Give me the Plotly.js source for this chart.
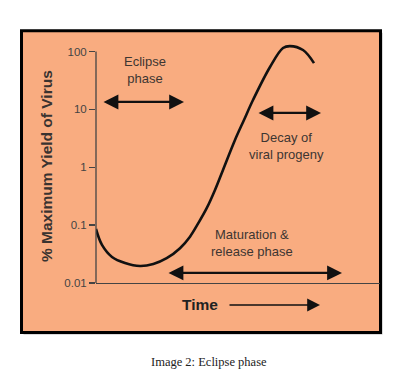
<!DOCTYPE html>
<html>
<head>
<meta charset="utf-8">
<script src="https://cdn.plot.ly/plotly-3.0.1.min.js"></script>
<style>
html,body{margin:0;padding:0;background:#fff;}
#chart{width:418px;height:370px;}
</style>
</head>
<body>
<div id="chart"></div>
<script>
// Time (arbitrary units) and % maximum yield of virus
const time = [0, 0.211, 0.563, 1.021, 1.549, 2.018, 2.489, 2.958, 3.31, 3.602, 3.898, 4.19, 4.472, 4.894, 5.211, 5.528, 6.127, 6.585, 6.831, 7.289, 7.676];
const yieldPct = [0.086, 0.0455, 0.0282, 0.0222, 0.0197, 0.0213, 0.0268, 0.0399, 0.0632, 0.108, 0.196, 0.405, 0.90, 2.96, 6.56, 14.5, 54, 115, 124, 106, 63];
const tickVals = [0.01, 0.1, 1, 10, 100];
const tickText = ['0.01', '0.1', '1', '10', '100'];
const yTitle = '% Maximum Yield of Virus';
const xTitle = 'Time';
const caption = 'Image 2: Eclipse phase';
const phaseLabels = ['Eclipse<br>phase', 'Decay of<br>viral progeny', 'Maturation &amp;<br>release phase'];

const FONT = 'Liberation Sans, Arial, sans-serif';
const TXT = '#3d3632';
const yMin = -2, yMax = 2.337;
const fracTop = (2 - yMin) / (yMax - yMin);

const trace = {
  x: time, y: yieldPct, type: 'scatter', mode: 'lines',
  line: {color: '#111', width: 2.6, shape: 'spline', smoothing: 1},
  hoverinfo: 'skip'
};

function arrow(xTip, yLog, axPx, both) {
  return {
    x: xTip, y: yLog, xref: 'x', yref: 'y', ax: axPx, ay: 0,
    axref: 'pixel', ayref: 'pixel', text: '', showarrow: true,
    arrowhead: 2, startarrowhead: 2, arrowside: both ? 'end+start' : 'end',
    arrowwidth: 2.2, arrowsize: 1.35, startarrowsize: 1.35, arrowcolor: '#111'
  };
}
function label(x, yLog, txt) {
  return {x: x, y: yLog, xref: 'x', yref: 'y', text: txt, showarrow: false,
    xanchor: 'center', yanchor: 'middle', font: {family: FONT, size: 13, color: TXT}};
}

const layout = {
  width: 418, height: 370,
  margin: {l: 96, r: 38, t: 32, b: 87},
  paper_bgcolor: '#ffffff', plot_bgcolor: 'rgba(0,0,0,0)',
  showlegend: false,
  xaxis: {range: [0, 10], showgrid: false, zeroline: false, showticklabels: false,
    ticks: '', showline: true, linecolor: '#444', linewidth: 1.3, fixedrange: true},
  yaxis: {type: 'log', range: [yMin, yMax], showgrid: false, zeroline: false,
    tickvals: tickVals, ticktext: tickText, ticks: 'outside', ticklen: 6,
    tickcolor: '#444', tickwidth: 1.3, showline: false,
    tickfont: {family: FONT, size: 11.5, color: '#444'}, fixedrange: true},
  shapes: [
    {type: 'rect', xref: 'paper', yref: 'paper', x0: -0.2553, x1: 1.0088, y0: -0.2052, y1: 0.9968,
      fillcolor: 'rgba(0,0,0,0.28)', line: {width: 0}, layer: 'below'},
    {type: 'rect', xref: 'paper', yref: 'paper', x0: -0.2623, x1: 1.0018, y0: -0.1972, y1: 1.0048,
      fillcolor: '#F9AC80', line: {color: '#000', width: 3}, layer: 'below'},
    {type: 'line', xref: 'paper', yref: 'paper', x0: 0, x1: 0, y0: 0, y1: fracTop,
      line: {color: '#444', width: 1.3}}
  ],
  annotations: [
    label(1.708, 1.680, phaseLabels[0]),
    arrow(3.099, 1.128, -82, true),
    label(6.69, 0.368, phaseLabels[1]),
    arrow(7.923, 0.938, -64, true),
    label(5.493, -1.316, phaseLabels[2]),
    arrow(8.662, -1.826, -175, true),
    {x: 3.662, y: -0.0876, xref: 'x', yref: 'paper', text: '<b>' + xTitle + '</b>', showarrow: false,
      xanchor: 'center', yanchor: 'middle', font: {family: FONT, size: 15.5, color: '#222'}},
    {x: 7.887, y: -0.0876, xref: 'x', yref: 'paper', ax: -92, ay: 0, text: '', showarrow: true,
      arrowhead: 2, arrowside: 'end', arrowwidth: 1.6, arrowsize: 1.6, arrowcolor: '#111'},
    {x: -0.176, y: 0.466, xref: 'paper', yref: 'paper', text: '<b>' + yTitle + '</b>', textangle: -90,
      showarrow: false, xanchor: 'center', yanchor: 'middle', font: {family: FONT, size: 15.5, color: '#3a3330'}},
    {x: 0.398, y: -0.315, xref: 'paper', yref: 'paper', text: caption, showarrow: false,
      xanchor: 'center', yanchor: 'middle', font: {family: 'Liberation Serif, Times New Roman, serif', size: 12.5, color: '#222'}}
  ]
};

Plotly.newPlot('chart', [trace], layout, {staticPlot: true, displayModeBar: false});
</script>
</body>
</html>
